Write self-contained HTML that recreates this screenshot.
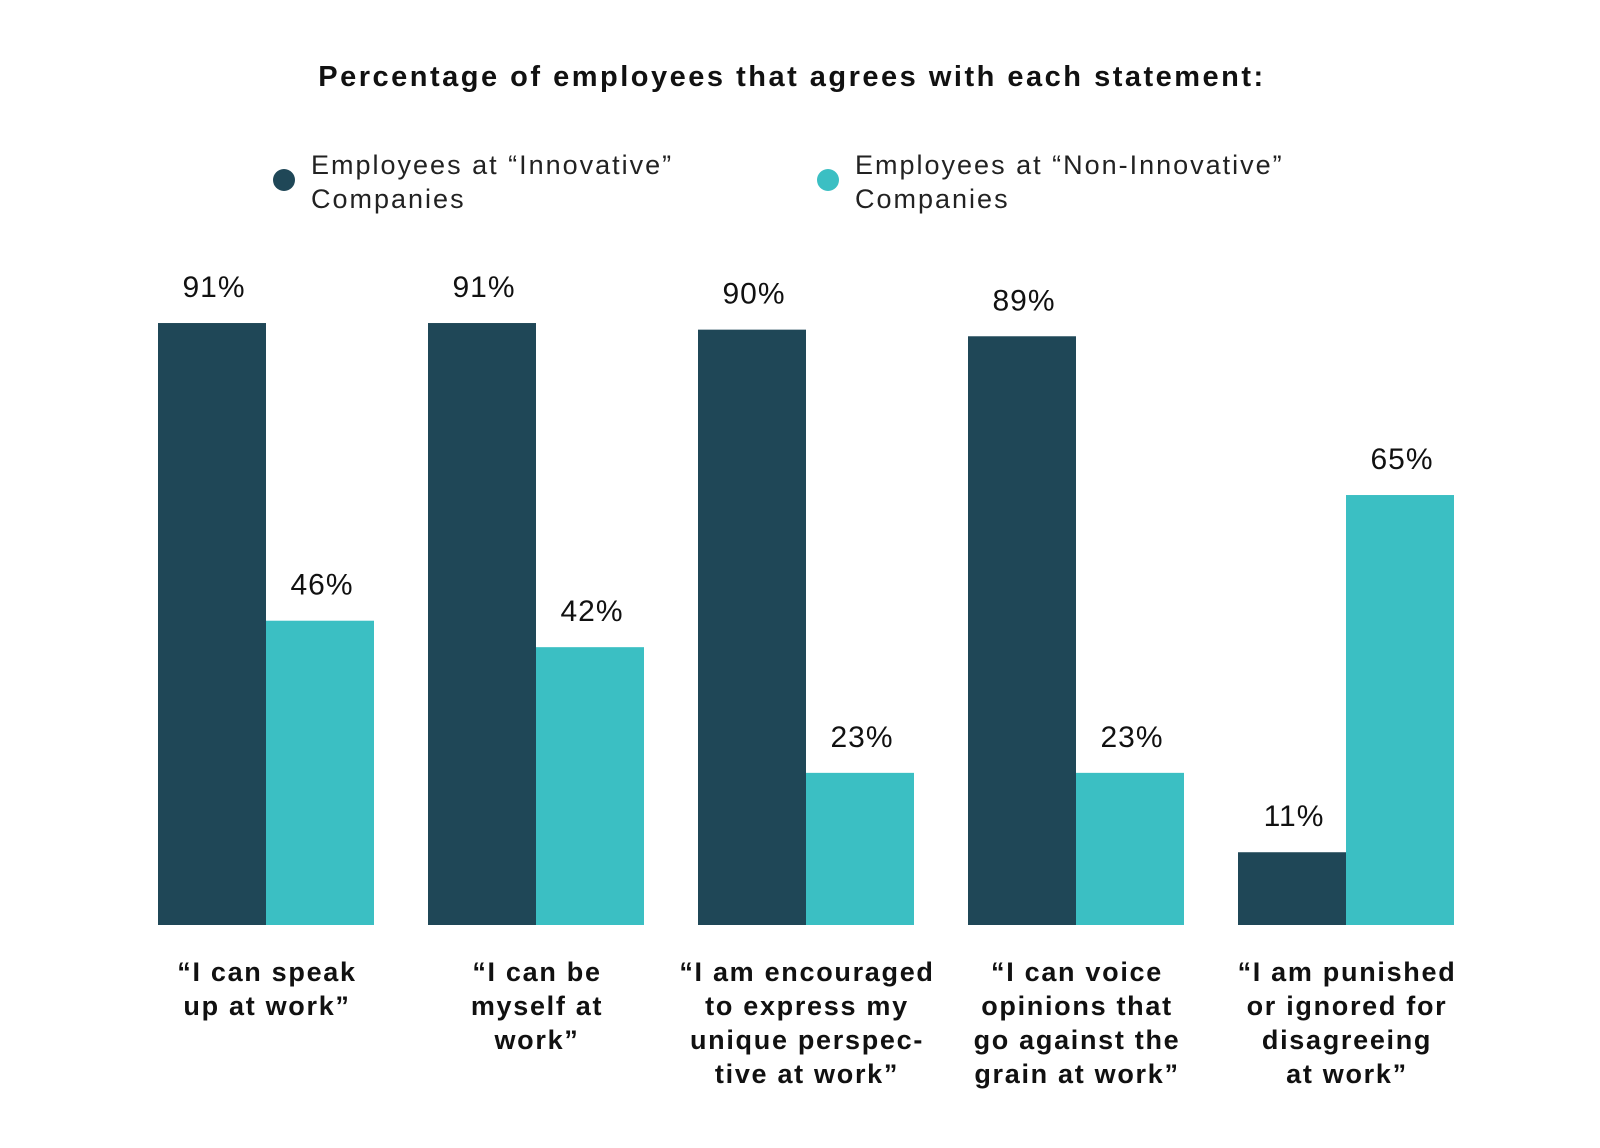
<!DOCTYPE html>
<html><head><meta charset="utf-8"><style>
body{margin:0;background:#fff;}
svg{display:block;font-family:"Liberation Sans",sans-serif;}
</style></head><body>
<svg id="chart" width="1600" height="1148" viewBox="0 0 1600 1148">
<text x="792" y="86" text-anchor="middle" font-size="29" font-weight="bold" fill="#111" letter-spacing="2.5">Percentage of employees that agrees with each statement:</text>
<g>
<circle cx="284" cy="180" r="11" fill="#1f4757"/>
<text x="311" y="174" font-size="27" fill="#222" letter-spacing="2">Employees at “Innovative”</text>
<text x="311" y="208" font-size="27" fill="#222" letter-spacing="2">Companies</text>
<circle cx="828" cy="180" r="11" fill="#3bbfc3"/>
<text x="855" y="174" font-size="27" fill="#222" letter-spacing="2">Employees at “Non-Innovative”</text>
<text x="855" y="208" font-size="27" fill="#222" letter-spacing="2">Companies</text>
</g>
<g id="bars"></g>
</svg>
<script>
const categories = [
 ["“I can speak","up at work”"],
 ["“I can be","myself at","work”"],
 ["“I am encouraged","to express my","unique perspec-","tive at work”"],
 ["“I can voice","opinions that","go against the","grain at work”"],
 ["“I am punished","or ignored for","disagreeing","at work”"]
];
const innovative = [91, 91, 90, 89, 11];
const nonInnovative = [46, 42, 23, 23, 65];

const baseY = 925, pxPer = 6.615, x0 = 158, pitch = 270, bw = 108;
const yScale = v => baseY - v * pxPer;
const xScale = i => x0 + i * pitch;
const g = document.getElementById('bars');
const NS = 'http://www.w3.org/2000/svg';
function mk(tag, attrs){const e=document.createElementNS(NS,tag);for(const k in attrs)e.setAttribute(k,attrs[k]);return e;}
categories.forEach((cat, i) => {
  const series = [[innovative[i], '#1f4757', 'innovative'], [nonInnovative[i], '#3bbfc3', 'non-innovative']];
  series.forEach((s, j) => {
    const x = xScale(i) + j * bw, y = yScale(s[0]);
    const r = mk('rect', {x: x, y: y, width: bw, height: baseY - y, fill: s[1]});
    
    
    g.appendChild(r);
    const t = mk('text', {x: x + bw / 2 + 2, y: y - 26, 'text-anchor': 'middle', 'font-size': 30, fill: '#111', 'letter-spacing': 1});
    t.textContent = s[0] + '%';
    
    
    g.appendChild(t);
  });
  cat.forEach((line, k) => {
    const t = mk('text', {x: xScale(i) + bw + 1, y: 981 + k * 34, 'text-anchor': 'middle', 'font-size': 27, 'font-weight': 'bold', fill: '#111', 'letter-spacing': 1.7});
    t.textContent = line;
    
    
    g.appendChild(t);
  });
});
</script>
</body></html>
